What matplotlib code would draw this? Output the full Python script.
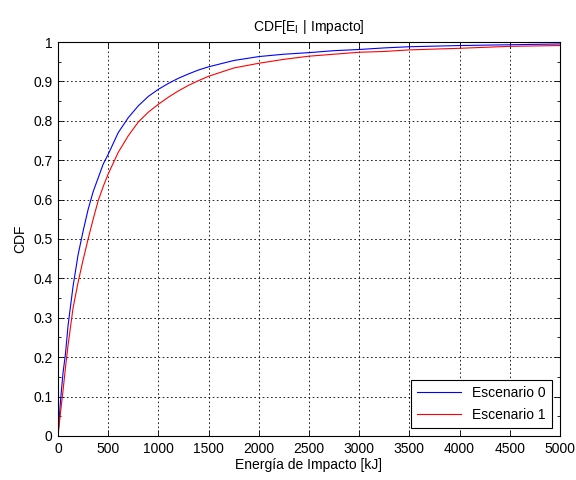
import matplotlib
matplotlib.use('Agg')
import matplotlib.pyplot as plt
from matplotlib.ticker import MultipleLocator

plt.rcParams['font.family'] = ['Liberation Sans', 'DejaVu Sans']
plt.rcParams['mathtext.fontset'] = 'custom'
plt.rcParams['mathtext.rm'] = 'Liberation Sans'

# =================================================================================================
# CDF values (energy in kJ)
energy_x = [0, 25, 50, 75, 100, 150, 200, 250, 300, 350, 400, 450, 500, 600, 700, 800, 900,
            1000, 1100, 1200, 1300, 1400, 1500, 1750, 2000, 2250, 2500, 2750, 3000, 3250,
            3500, 4000, 4500, 5000]

esc0_y = [0, 0.09, 0.16, 0.21, 0.28, 0.38, 0.46, 0.52, 0.575, 0.62, 0.655, 0.69, 0.715,
          0.77, 0.808, 0.838, 0.862, 0.88, 0.895, 0.908, 0.919, 0.929, 0.937, 0.953, 0.963,
          0.969, 0.973, 0.978, 0.981, 0.985, 0.988, 0.991, 0.993, 0.995]

esc1_y = [0, 0.06, 0.115, 0.175, 0.23, 0.325, 0.39, 0.447, 0.5, 0.55, 0.597, 0.633, 0.665,
          0.72, 0.762, 0.797, 0.822, 0.842, 0.86, 0.876, 0.89, 0.902, 0.913, 0.934, 0.946,
          0.956, 0.964, 0.969, 0.974, 0.976, 0.98, 0.984, 0.989, 0.991]

x_ticks = [0, 500, 1000, 1500, 2000, 2500, 3000, 3500, 4000, 4500, 5000]
y_ticks = [0, 0.1, 0.2, 0.3, 0.4, 0.5, 0.6, 0.7, 0.8, 0.9, 1]
y_tick_labels = ['0', '0.1', '0.2', '0.3', '0.4', '0.5', '0.6', '0.7', '0.8', '0.9', '1']

# =================================================================================================
fig = plt.figure(figsize=(5.76, 4.8), dpi=100)
ax = fig.add_axes([0.1007, 0.0917, 0.8715, 0.8208])

ax.plot(energy_x, esc0_y, color='#0000ff', linewidth=0.8, label='Escenario 0')
ax.plot(energy_x, esc1_y, color='#ff0000', linewidth=0.8, label='Escenario 1')

ax.set_xlim(0, 5000)
ax.set_ylim(0, 1)
ax.set_xticks(x_ticks)
ax.set_xticklabels([str(t) for t in x_ticks])
ax.set_yticks(y_ticks)
ax.set_yticklabels(y_tick_labels)
ax.yaxis.set_minor_locator(MultipleLocator(0.05))

ax.tick_params(which='both', direction='in', top=True, right=True, labelsize=10, pad=4)
ax.tick_params(which='major', length=4, width=0.6)
ax.tick_params(which='minor', length=2, width=0.6)
for s in ax.spines.values():
    s.set_linewidth(0.8)

ax.grid(True, which='major', color='k', linestyle=(0, (2, 3)), linewidth=0.6)

ax.set_title('$\\mathregular{CDF[E_I\\ |\\ Impacto]}$', fontsize=10, pad=8)
ax.set_xlabel('Energía de Impacto [kJ]', fontsize=10, labelpad=2)
ax.set_ylabel('CDF', fontsize=10, labelpad=4)

leg = ax.legend(loc='lower right', fontsize=10, handlelength=3.2, fancybox=False,
                framealpha=1, edgecolor='k', borderaxespad=0.6, labelspacing=0.6)
leg.get_frame().set_linewidth(0.8)

plt.savefig('out.png', dpi=100)
